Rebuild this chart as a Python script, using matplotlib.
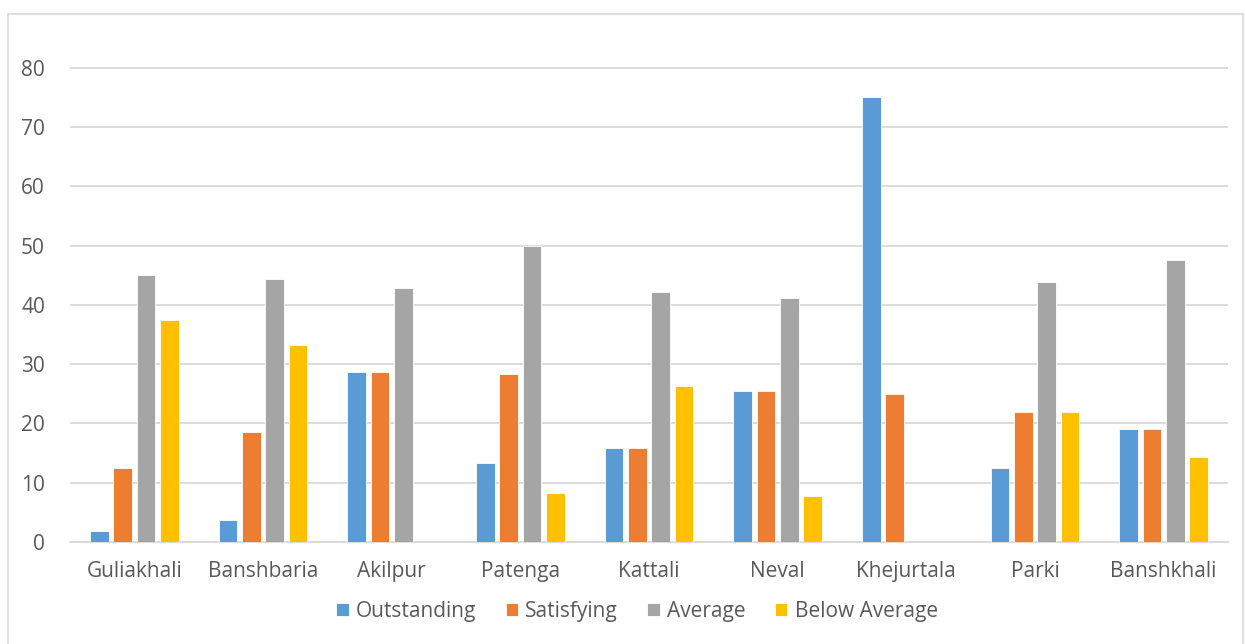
import numpy as np
import matplotlib.pyplot as plt
from matplotlib.patches import Rectangle

plt.rcParams['font.family'] = ['Open Sans', 'DejaVu Sans']

places = ["Guliakhali", "Banshbaria", "Akilpur", "Patenga", "Kattali",
          "Neval", "Khejurtala", "Parki", "Banshkhali"]
outstanding = [1.9, 3.7, 28.6, 13.3, 15.8, 25.5, 75.0, 12.5, 19.0]
satisfying = [12.5, 18.5, 28.6, 28.3, 15.8, 25.5, 25.0, 21.9, 19.0]
average = [45.0, 44.4, 42.9, 50.0, 42.1, 41.2, 0, 43.8, 47.6]
below_average = [37.5, 33.3, 0, 8.3, 26.3, 7.8, 0, 21.9, 14.3]

series = [("Outstanding", outstanding, "#5B9BD5"),
          ("Satisfying", satisfying, "#ED7D31"),
          ("Average", average, "#A5A5A5"),
          ("Below Average", below_average, "#FFC000")]

fig = plt.figure(figsize=(12.45, 6.44), dpi=100)
ax = fig.add_axes([70/1245, 1 - 542/644, 1158/1245, 504/644])

# light border round the chart area
fig.patches.append(Rectangle((8/1245, -0.05), 1235/1245, 1 - 14/644 + 0.05,
                             transform=fig.transFigure, fill=False,
                             edgecolor="#d9d9d9", linewidth=1.2))

x = np.arange(len(places))
w = 0.145
step = 0.181
for i, (name, vals, col) in enumerate(series):
    ax.bar(x + (i - 1.5) * step, vals, width=w, color=col, label=name,
           edgecolor="white", linewidth=0.6, zorder=3)

ax.set_xlim(-0.5, len(places) - 0.5)
ax.set_ylim(0, 85)
ax.set_yticks(np.arange(0, 81, 10))
ax.yaxis.grid(True, color="#d9d9d9", linewidth=1.3, zorder=0)
ax.set_xticks(x)
ax.set_xticklabels(places)
for s in ["top", "right", "left"]:
    ax.spines[s].set_visible(False)
ax.spines["bottom"].set_color("#d9d9d9")
ax.spines["bottom"].set_linewidth(1.3)
ax.tick_params(axis="both", length=0, labelsize=15, colors="#595959")
ax.tick_params(axis="y", pad=18)
ax.tick_params(axis="x", pad=14)

fig.legend(loc="center", bbox_to_anchor=(637/1245, 1 - 611/644), ncol=4,
           frameon=False, fontsize=15, handlelength=0.6, handleheight=0.6,
           handletextpad=0.35, columnspacing=1.4, labelcolor="#595959")

fig.savefig("out.png", dpi=100)
